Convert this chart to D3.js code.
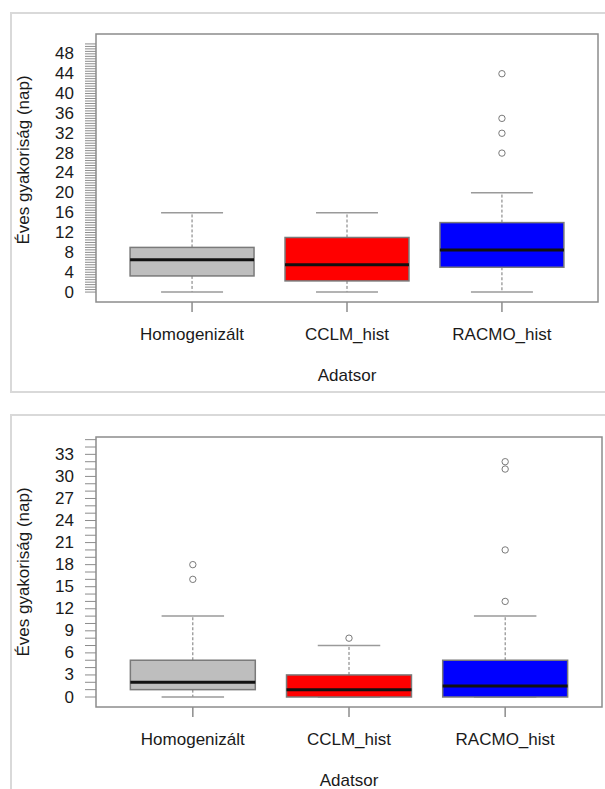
<!DOCTYPE html>
<html>
<head>
<meta charset="utf-8">
<script src="https://cdn.jsdelivr.net/npm/d3@7"></script>
<style>
  body { margin: 0; background: #fff; }
  text { font-family: "Liberation Sans", Arial, sans-serif; fill: #1a1a1a; }
</style>
</head>
<body>
<svg id="chart" width="605" height="789"></svg>
<script>
// categories and fill colours
const categories = ["Homogenizált", "CCLM_hist", "RACMO_hist"];
const boxColors = ["#bebebe", "#ff0000", "#0000ff"];

// top panel: five-number summaries + outliers
const lo1 = [0, 0, 0];
const q1_1 = [3.25, 2.25, 5];
const med1 = [6.5, 5.5, 8.5];
const q3_1 = [9, 11, 14];
const hi1 = [16, 16, 20];
const out1 = [[], [], [44, 35, 32, 28]];
const yLabels1 = d3.range(0, 49, 4);
const yMinor1 = d3.range(0, 50.01, 0.5);

// bottom panel
const lo2 = [0, 0, 0];
const q1_2 = [1, 0, 0];
const med2 = [2, 1, 1.5];
const q3_2 = [5, 3, 5];
const hi2 = [11, 7, 11];
const out2 = [[18, 16], [8], [32, 31, 20, 13]];
const yLabels2 = d3.range(0, 34, 3);
const yMinor2 = d3.range(0, 35.01, 1);

const svg = d3.select("#chart");

function panel(opt) {
  // light screenshot frame
  svg.append("path")
    .attr("d", opt.framePath)
    .attr("fill", "none")
    .attr("stroke", "#d9d9d9")
    .attr("stroke-width", 2);

  const x = d3.scaleLinear().domain([0.38, 3.62]).range([opt.left, opt.right]);
  const y = d3.scaleLinear().domain(opt.yDomain).range([opt.bottom, opt.top]);

  // plot box
  svg.append("rect")
    .attr("x", opt.left).attr("y", opt.top)
    .attr("width", opt.right - opt.left).attr("height", opt.bottom - opt.top)
    .attr("fill", "none").attr("stroke", "#8c8c8c").attr("stroke-width", 1.5);

  // y axis ticks
  const gy = svg.append("g").attr("transform", `translate(${opt.left},0)`);
  gy.selectAll("line.minor").data(opt.minor).enter().append("line")
    .attr("x1", -11).attr("x2", 0)
    .attr("y1", d => y(d)).attr("y2", d => y(d))
    .attr("stroke", "#8c8c8c").attr("stroke-width", 1);
  gy.selectAll("text").data(opt.labels).enter().append("text")
    .attr("x", -22).attr("y", d => y(d))
    .attr("text-anchor", "end").attr("dominant-baseline", "central")
    .style("font-size", "17px")
    .text(d => d);

  // x axis ticks + labels
  const gx = svg.append("g");
  categories.forEach((c, i) => {
    gx.append("line")
      .attr("x1", x(i + 1)).attr("x2", x(i + 1))
      .attr("y1", opt.bottom).attr("y2", opt.bottom + 10)
      .attr("stroke", "#8c8c8c").attr("stroke-width", 1.5);
    gx.append("text")
      .attr("x", x(i + 1)).attr("y", opt.bottom + 32)
      .attr("text-anchor", "middle").attr("dominant-baseline", "central")
      .style("font-size", "17px")
      .text(c);
  });

  svg.append("text")
    .attr("x", (opt.left + opt.right) / 2).attr("y", opt.bottom + 73)
    .attr("text-anchor", "middle").attr("dominant-baseline", "central")
    .style("font-size", "17px")
    .text("Adatsor");

  svg.append("text")
    .attr("transform", `translate(23,${(opt.top + opt.bottom) / 2 + opt.titleShift}) rotate(-90)`)
    .attr("text-anchor", "middle").attr("dominant-baseline", "central")
    .style("font-size", "17px")
    .text("Éves gyakoriság (nap)");

  // boxes
  const bw = 0.4, cw = 0.2;
  categories.forEach((c, i) => {
    const cx = i + 1;
    const g = svg.append("g");
    // whiskers
    g.append("line")
      .attr("x1", x(cx)).attr("x2", x(cx))
      .attr("y1", y(opt.q3[i])).attr("y2", y(opt.hi[i]))
      .attr("stroke", "#777").attr("stroke-dasharray", "3,2").attr("stroke-width", 1);
    g.append("line")
      .attr("x1", x(cx)).attr("x2", x(cx))
      .attr("y1", y(opt.q1[i])).attr("y2", y(opt.lo[i]))
      .attr("stroke", "#777").attr("stroke-dasharray", "3,2").attr("stroke-width", 1);
    // caps
    [opt.hi[i], opt.lo[i]].forEach(v => {
      g.append("line")
        .attr("x1", x(cx - cw)).attr("x2", x(cx + cw))
        .attr("y1", y(v)).attr("y2", y(v))
        .attr("stroke", "#9a9a9a").attr("stroke-width", 1.5);
    });
    // box
    g.append("rect")
      .attr("x", x(cx - bw)).attr("width", x(cx + bw) - x(cx - bw))
      .attr("y", y(opt.q3[i])).attr("height", y(opt.q1[i]) - y(opt.q3[i]))
      .attr("fill", boxColors[i]).attr("stroke", "#7a7a7a").attr("stroke-width", 1.5);
    // median
    g.append("line")
      .attr("x1", x(cx - bw)).attr("x2", x(cx + bw))
      .attr("y1", y(opt.med[i])).attr("y2", y(opt.med[i]))
      .attr("stroke", "#111").attr("stroke-width", 3);
    // outliers
    g.selectAll("circle").data(opt.out[i]).enter().append("circle")
      .attr("cx", x(cx)).attr("cy", d => y(d)).attr("r", 3.2)
      .attr("fill", "none").attr("stroke", "#7a7a7a").attr("stroke-width", 1);
  });
}

panel({
  framePath: "M607,13 H11 V392 H607",
  left: 96, right: 598, top: 34, bottom: 302,
  yDomain: [-2, 52],
  lo: lo1, q1: q1_1, med: med1, q3: q3_1, hi: hi1, out: out1,
  labels: yLabels1, minor: yMinor1, titleShift: -8
});

panel({
  framePath: "M607,415 H11 V791",
  left: 96, right: 602, top: 437, bottom: 707,
  yDomain: [-1.36, 35.36],
  lo: lo2, q1: q1_2, med: med2, q3: q3_2, hi: hi2, out: out2,
  labels: yLabels2, minor: yMinor2, titleShift: 0
});
</script>
</body>
</html>
